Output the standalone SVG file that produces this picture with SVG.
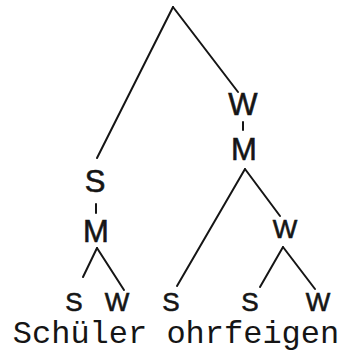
<svg xmlns="http://www.w3.org/2000/svg" width="345" height="353" viewBox="0 0 345 353">
<style>
.ln{stroke:#151515;stroke-width:2;fill:none;stroke-linecap:round}
.lb{font-family:"Liberation Sans","DejaVu Sans",sans-serif;fill:#151515;stroke:#151515;stroke-width:0.6;text-anchor:middle}
.big{font-size:31px}
.sm{font-size:26px}
.word{font-family:"Liberation Mono","Courier New",monospace;font-size:32px;fill:#151515;text-anchor:middle}
</style>
<rect width="345" height="353" fill="#ffffff"/>
<g id="connectors">
<line class="ln" x1="173" y1="7" x2="97" y2="158"/>
<line class="ln" x1="173" y1="7" x2="238" y2="92"/>
<line class="ln" x1="96" y1="204" x2="96" y2="213"/>
<line class="ln" x1="97" y1="248" x2="83" y2="277"/>
<line class="ln" x1="97" y1="248" x2="124" y2="290"/>
<line class="ln" x1="243" y1="122" x2="243" y2="130"/>
<line class="ln" x1="245" y1="169" x2="177" y2="286"/>
<line class="ln" x1="245" y1="169" x2="280" y2="216"/>
<line class="ln" x1="283" y1="247" x2="260" y2="287"/>
<line class="ln" x1="283" y1="247" x2="315" y2="289"/>
</g>
<g id="n-S1"><text class="lb big" x="95" y="192">S</text></g>
<g id="n-M1"><text class="lb big" x="96" y="242">M</text></g>
<g id="n-S2"><text class="lb sm" x="74" y="310.5">S</text></g>
<g id="n-W2"><text class="lb sm" x="117" y="310.5">W</text></g>
<g id="n-W1"><text class="lb big" x="243" y="115">W</text></g>
<g id="n-M2"><text class="lb big" x="244" y="160">M</text></g>
<g id="n-W3"><text class="lb sm" x="285" y="238">W</text></g>
<g id="n-S3"><text class="lb sm" x="171" y="310.5">S</text></g>
<g id="n-S4"><text class="lb sm" x="250" y="310.5">S</text></g>
<g id="n-W4"><text class="lb sm" x="318" y="310.5">W</text></g>
<g id="words"><text class="word" x="176" y="343">Schüler ohrfeigen</text></g>
</svg>
